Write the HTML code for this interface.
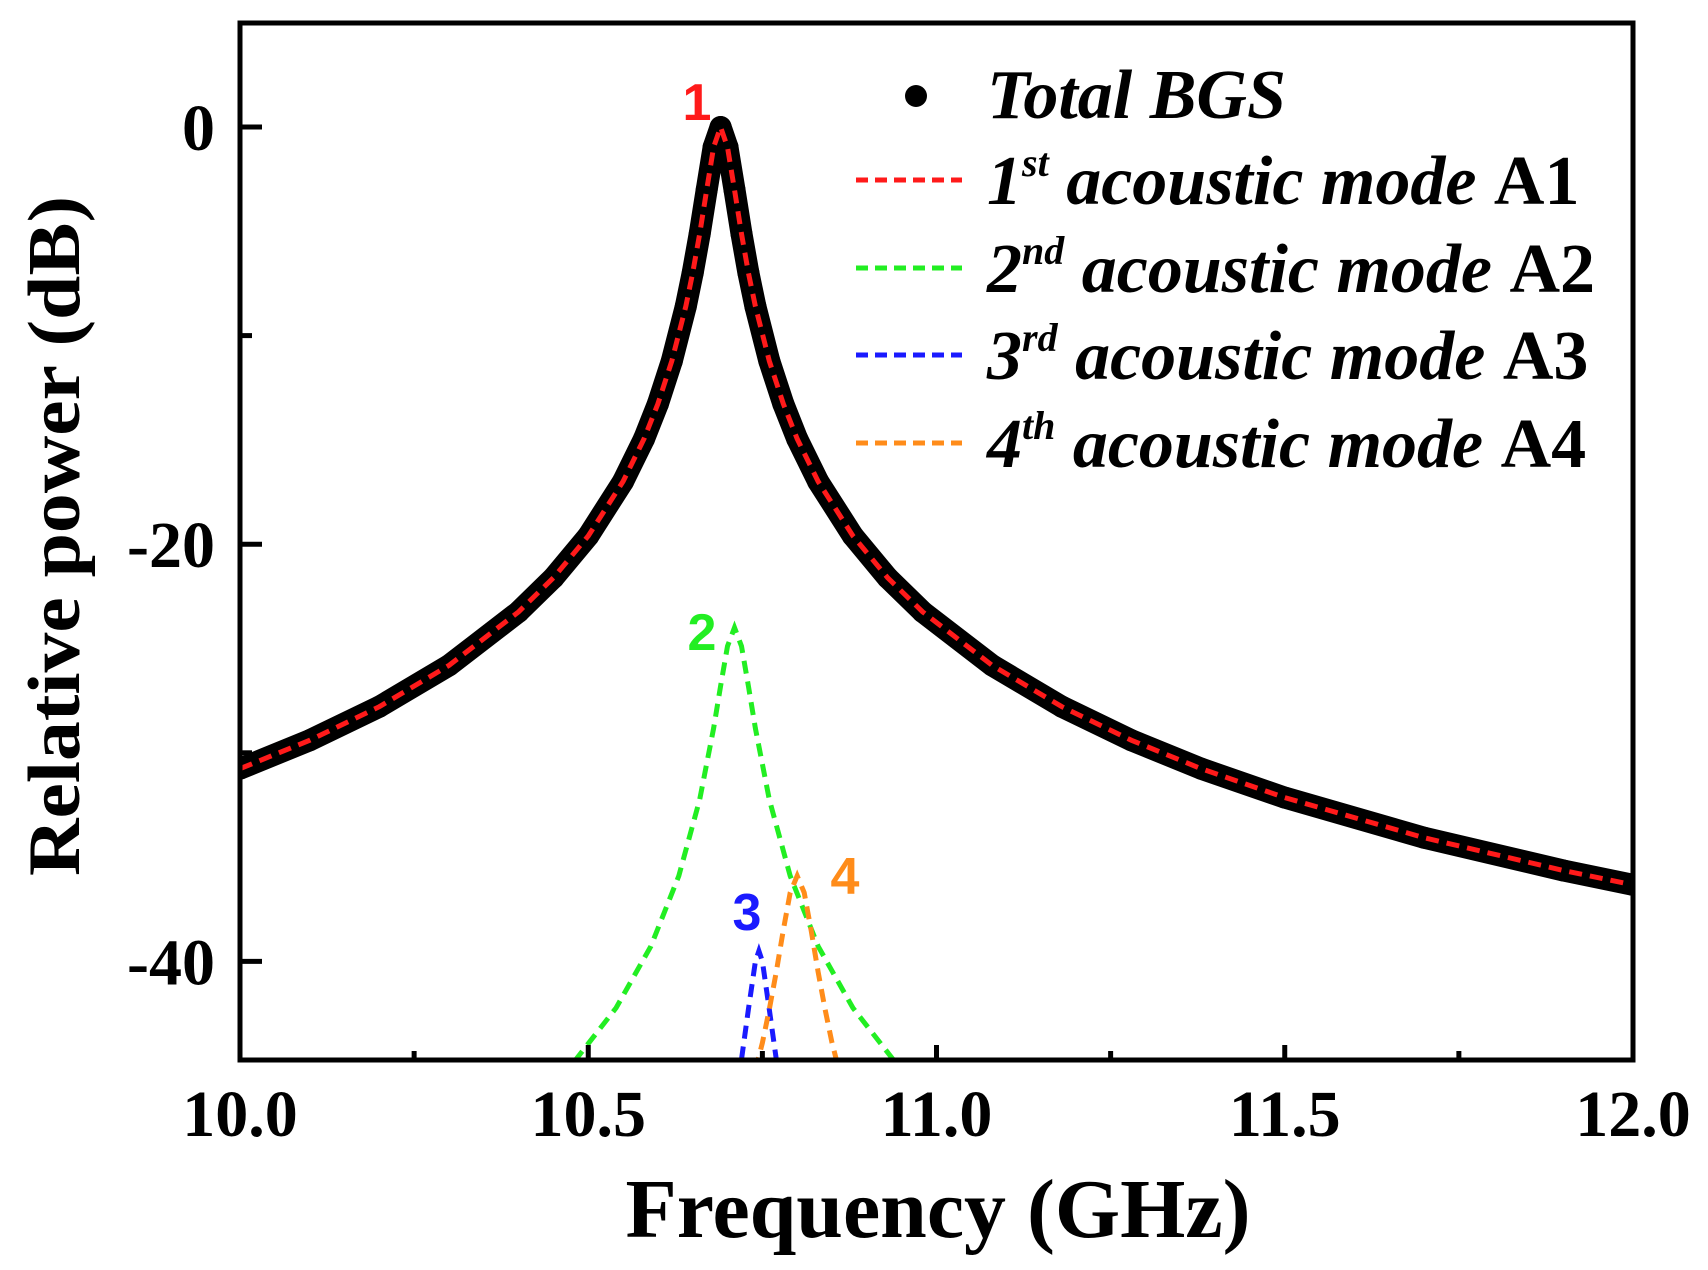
<!DOCTYPE html>
<html><head><meta charset="utf-8"><style>
body{margin:0;background:#fff}
svg{display:block}
.serif{font-family:"Liberation Serif",serif;font-weight:bold}
.sans{font-family:"Liberation Sans",sans-serif;font-weight:bold}
</style></head><body>
<svg id="chart" width="1708" height="1270" viewBox="0 0 1708 1270">
<defs><clipPath id="clip"><rect x="240" y="23" width="1393" height="1037"/></clipPath></defs>
<g id="plot" clip-path="url(#clip)"></g>
<rect x="240" y="23" width="1393" height="1037" fill="none" stroke="#000" stroke-width="5"/>
<g id="axes" class="serif"></g>
<text class="serif" x="62" y="536" font-size="74" text-anchor="middle" textLength="680" lengthAdjust="spacingAndGlyphs" transform="rotate(-90 62 536)" dominant-baseline="middle">Relative power (dB)</text>
<text class="serif" x="938" y="1237" font-size="84" text-anchor="middle" textLength="625" lengthAdjust="spacingAndGlyphs">Frequency (GHz)</text>
<g id="legend" class="serif" font-style="italic" font-size="70">
<circle cx="916" cy="96" r="11" fill="#000"/>
<text x="987" y="118">Total BGS</text>
<line x1="856" y1="180" x2="962" y2="180" stroke="#ff1a1a" stroke-width="5" stroke-dasharray="12 7"/>
<text x="987" y="204">1<tspan font-size="40" dy="-28">st</tspan><tspan dy="28"> acoustic mode </tspan><tspan font-style="normal">A1</tspan></text>
<line x1="856" y1="268" x2="962" y2="268" stroke="#22ee22" stroke-width="5" stroke-dasharray="12 7"/>
<text x="987" y="292">2<tspan font-size="40" dy="-28">nd</tspan><tspan dy="28"> acoustic mode </tspan><tspan font-style="normal">A2</tspan></text>
<line x1="856" y1="355" x2="962" y2="355" stroke="#1a1aff" stroke-width="5" stroke-dasharray="12 7"/>
<text x="987" y="379">3<tspan font-size="40" dy="-28">rd</tspan><tspan dy="28"> acoustic mode </tspan><tspan font-style="normal">A3</tspan></text>
<line x1="856" y1="443" x2="962" y2="443" stroke="#ff8c1a" stroke-width="5" stroke-dasharray="12 7"/>
<text x="987" y="467">4<tspan font-size="40" dy="-28">th</tspan><tspan dy="28"> acoustic mode </tspan><tspan font-style="normal">A4</tspan></text>
</g>
<g class="sans" font-size="52">
<text x="697" y="120" fill="#ff1a1a" text-anchor="middle">1</text>
<text x="702" y="650" fill="#22ee22" text-anchor="middle">2</text>
<text x="747" y="930" fill="#1a1aff" text-anchor="middle">3</text>
<text x="845" y="894" fill="#ff8c1a" text-anchor="middle">4</text>
</g>
</svg>
<script>
const xTicks=[10.0,10.5,11.0,11.5,12.0];
const xTickLabels=["10.0","10.5","11.0","11.5","12.0"];
const xMinor=[10.25,10.75,11.25,11.75];
const yTicks=[0,-20,-40];
const yTickLabels=["0","-20","-40"];
const yMinor=[-10,-30];
const a1F=[10.00,10.10,10.20,10.30,10.40,10.45,10.50,10.55,10.58,10.60,10.62,10.64,10.65,10.66,10.67,10.68,10.69,10.70,10.71,10.72,10.73,10.74,10.76,10.78,10.80,10.83,10.88,10.93,10.98,11.08,11.18,11.28,11.38,11.50,11.70,11.90,12.00];
const a1V=[-30.76,-29.40,-27.79,-25.81,-23.24,-21.61,-19.60,-16.99,-14.95,-13.27,-11.22,-8.60,-6.99,-5.12,-3.01,-0.97,0,-0.97,-3.01,-5.12,-6.99,-8.60,-11.22,-13.27,-14.95,-16.99,-19.60,-21.61,-23.24,-25.81,-27.79,-29.40,-30.76,-32.15,-34.07,-35.64,-36.33];
const a2F=[10.48,10.54,10.59,10.63,10.66,10.68,10.69,10.70,10.71,10.72,10.73,10.74,10.76,10.79,10.83,10.88,10.94];
const a2V=[-44.8,-42.23,-39.27,-35.9,-32.24,-28.83,-26.8,-24.89,-24,-24.89,-26.8,-28.83,-32.24,-35.9,-39.27,-42.23,-44.8];
const a3F=[10.72,10.73,10.74,10.745,10.75,10.76,10.77];
const a3V=[-44.7,-42.3,-40.0,-39.5,-40.0,-42.3,-44.7];
const a4F=[10.74,10.75,10.76,10.77,10.78,10.79,10.80,10.81,10.82,10.83,10.84,10.85,10.86];
const a4V=[-45.2,-43.9,-42.3,-40.5,-38.5,-36.7,-35.9,-36.7,-38.5,-40.5,-42.3,-43.9,-45.2];

const NS="http://www.w3.org/2000/svg";
const X=f=>240+(f-10)*(1393/2);
const Y=v=>127-v*20.86;
const plot=document.getElementById('plot');
const axes=document.getElementById('axes');
function mk(tag,attrs,parent){const e=document.createElementNS(NS,tag);for(const k in attrs)e.setAttribute(k,attrs[k]);parent.appendChild(e);return e;}
function pts(F,V){return F.map((f,i)=>X(f).toFixed(1)+','+Y(V[i]).toFixed(1)).join(' ');}

const tl=mk('polyline',{points:pts(a1F,a1V),fill:'none',stroke:'#000','stroke-width':22,'stroke-linejoin':'round'},plot);


a1F.forEach((f,i)=>{const c=mk('circle',{cx:X(f),cy:Y(a1V[i]),r:11,fill:'#000'},plot);

});
const series=[[a1F,a1V,'#ff1a1a','a1-line'],[a2F,a2V,'#22ee22','a2-line'],[a3F,a3V,'#1a1aff','a3-line'],[a4F,a4V,'#ff8c1a','a4-line']];
series.forEach(s=>{const p=mk('polyline',{points:pts(s[0],s[1]),fill:'none',stroke:s[2],'stroke-width':5,'stroke-dasharray':'13 8'},plot);

});

xTicks.forEach((f,i)=>{const l=mk('line',{x1:X(f),x2:X(f),y1:1060,y2:1045,stroke:'#000','stroke-width':5},axes);


const t=mk('text',{x:X(f),y:1136,'font-size':66,'text-anchor':'middle'},axes);t.textContent=xTickLabels[i];

});
xMinor.forEach(f=>{const l=mk('line',{x1:X(f),x2:X(f),y1:1060,y2:1051,stroke:'#000','stroke-width':5},axes);

});
yTicks.forEach((v,i)=>{const l=mk('line',{x1:240,x2:262,y1:Y(v),y2:Y(v),stroke:'#000','stroke-width':5},axes);


const t=mk('text',{x:215,y:Y(v)+23,'font-size':66,'text-anchor':'end'},axes);t.textContent=yTickLabels[i];

});
yMinor.forEach(v=>{const l=mk('line',{x1:240,x2:252,y1:Y(v),y2:Y(v),stroke:'#000','stroke-width':5},axes);

});
</script>
</body></html>
